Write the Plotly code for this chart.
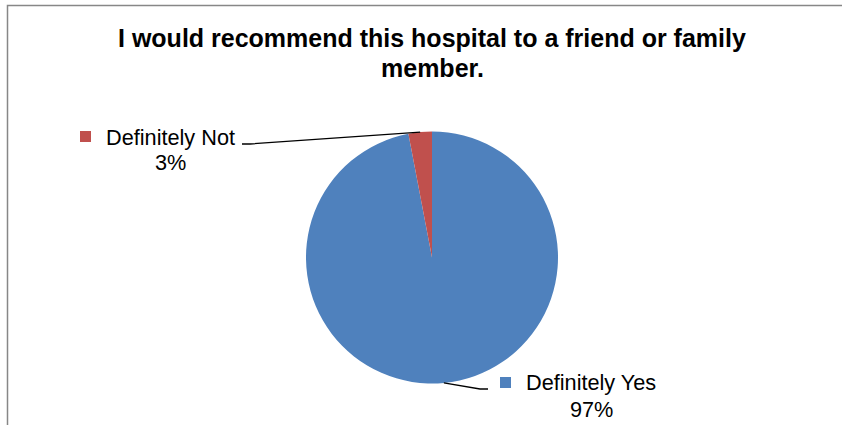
import math
import plotly.graph_objects as go

# ---- data ----
categories = ["Definitely Yes", "Definitely Not"]
values = [97, 3]
pct_labels = ["97%", "3%"]
slice_colors = ["#4F81BD", "#C0504D"]
title_lines = ["I would recommend this hospital to a friend or family", "member."]

# ---- layout constants (pixels) ----
W, H = 842, 425
CX, CY, R = 432, 257.5, 126
FONT = "Arial, 'Liberation Sans', sans-serif"
label_layout = [
    dict(cx=591, b1=390, b2=417, sq_x=500, sq_y=377, text_edge=(488, 389), elbow=(480, 389)),
    dict(cx=170, b1=145, b2=170, sq_x=80, sq_y=131, text_edge=(242, 144), elbow=(250, 144)),
]
LABEL_SIZE = 21.7
TITLE_SIZE = 25
SQ = 11


def px(x):
    return x / W


def py(y):
    return 1 - y / H


fig = go.Figure(go.Pie(
    labels=categories,
    values=values,
    marker=dict(colors=slice_colors, line=dict(width=0)),
    sort=False,
    direction="clockwise",
    rotation=0,
    textinfo="none",
    hoverinfo="label+percent",
    showlegend=False,
    domain=dict(x=[px(CX - R), px(CX + R)], y=[py(CY + R), py(CY - R)]),
))

annotations = []
shapes = []

# title
title_baselines = [46.7, 76.7]
for txt, b in zip(title_lines, title_baselines):
    annotations.append(dict(
        text=f"<b>{txt}</b>", x=px(432), y=py(b - 0.35 * TITLE_SIZE),
        xref="paper", yref="paper", xanchor="center", yanchor="middle",
        showarrow=False, font=dict(family=FONT, size=TITLE_SIZE, color="#000000"),
    ))

# labels + leader lines computed from the slice geometry (clockwise from 12 o'clock)
total = sum(values)
cum = 0
for i, v in enumerate(values):
    mid = (cum + v / 2) / total * 2 * math.pi
    cum += v
    ex = CX + R * math.sin(mid)
    ey = CY - R * math.cos(mid)
    L = label_layout[i]
    annotations.append(dict(
        text=categories[i], x=px(L["cx"]), y=py(L["b1"] - 0.35 * LABEL_SIZE),
        xref="paper", yref="paper", xanchor="center", yanchor="middle",
        showarrow=False, font=dict(family=FONT, size=LABEL_SIZE, color="#000000"),
    ))
    annotations.append(dict(
        text=pct_labels[i], x=px(L["cx"]), y=py(L["b2"] - 0.35 * LABEL_SIZE),
        xref="paper", yref="paper", xanchor="center", yanchor="middle",
        showarrow=False, font=dict(family=FONT, size=LABEL_SIZE, color="#000000"),
    ))
    shapes.append(dict(
        type="rect", xref="paper", yref="paper",
        x0=px(L["sq_x"]), x1=px(L["sq_x"] + SQ), y0=py(L["sq_y"] + SQ), y1=py(L["sq_y"]),
        fillcolor=slice_colors[i], line=dict(width=0),
    ))
    tx, ty = L["text_edge"]
    bx, by = L["elbow"]
    shapes.append(dict(
        type="path", xref="paper", yref="paper",
        path=f"M {px(ex)},{py(ey)} L {px(bx)},{py(by)} L {px(tx)},{py(ty)}",
        line=dict(color="#000000", width=1.3),
    ))

# chart area border (top and left edges; the rest lies outside the picture)
shapes.append(dict(
    type="path", xref="paper", yref="paper",
    path=f"M {px(7.5)},{py(H)} L {px(7.5)},{py(5.5)} L {px(W)},{py(5.5)}",
    line=dict(color="#878787", width=1.5), layer="below",
))

fig.update_layout(
    width=W, height=H,
    margin=dict(l=0, r=0, t=0, b=0),
    paper_bgcolor="#FFFFFF",
    plot_bgcolor="#FFFFFF",
    annotations=annotations,
    shapes=shapes,
    font=dict(family=FONT),
)

fig.write_html(
    "out.html",
    config={"displayModeBar": False},
    post_script="document.body.style.margin='0';document.body.style.overflow='hidden';",
)
